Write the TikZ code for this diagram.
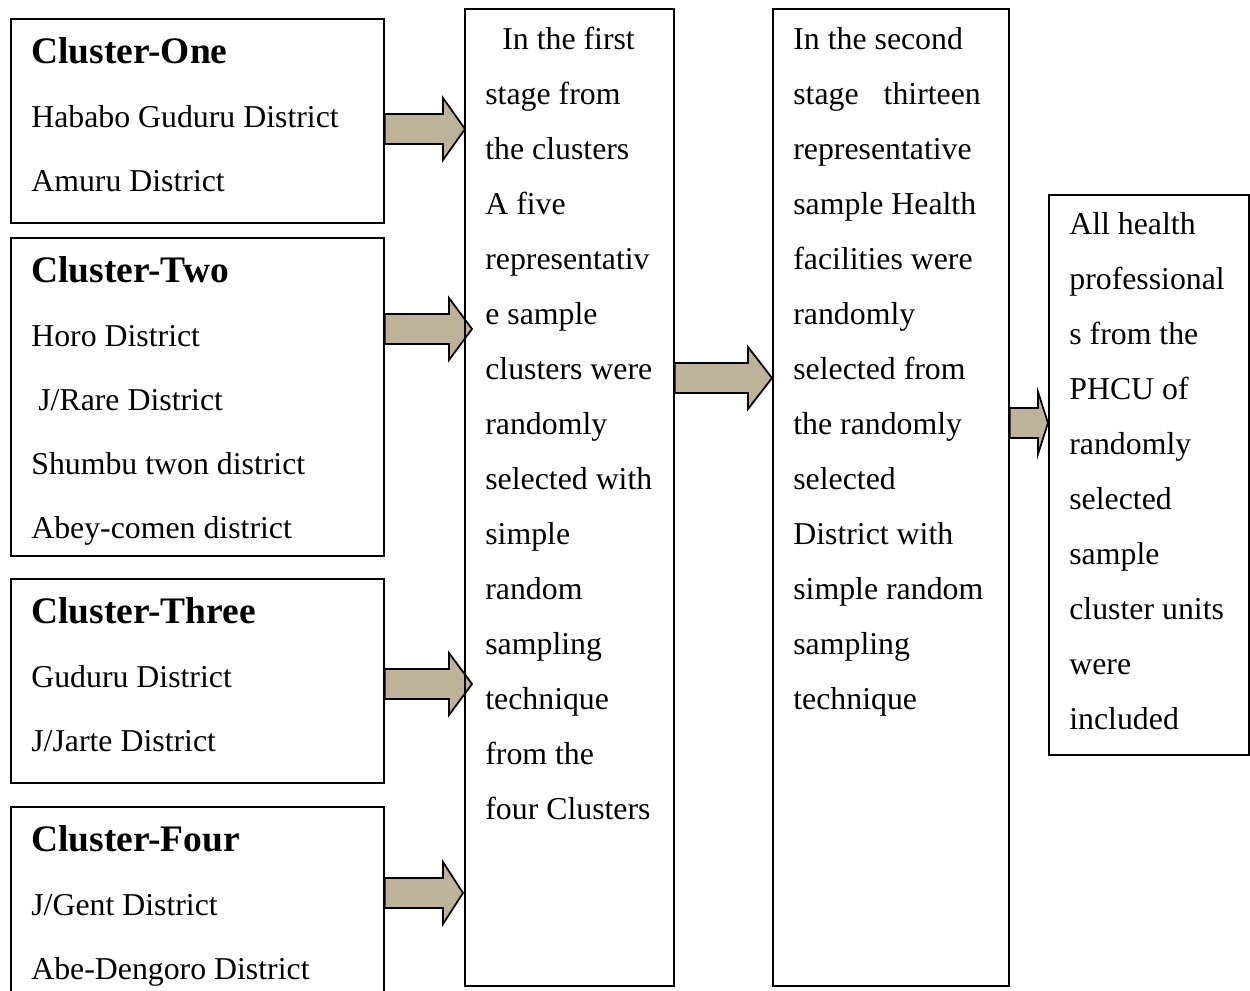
\documentclass[tikz,border=0pt]{standalone}
\usepackage{fontspec}
\setmainfont{Liberation Serif}
\usetikzlibrary{calc,backgrounds}
\definecolor{arrowtan}{RGB}{191,178,155}
\tikzset{
  % riquadri
  panel/.style={draw, line width=1pt, rectangle, inner sep=0pt, anchor=north west},
  % testi
  title/.style={font=\fontsize{21.3}{24}\selectfont\bfseries, anchor=base west, inner sep=0pt},
  item/.style={font=\fontsize{18.1}{20}\selectfont, anchor=base west, inner sep=0pt},
  % freccia piena
  fat arrow/.style={fill=arrowtan, draw=black, line width=1pt, line join=miter}
}
% #1 partenza, #2 arrivo, #3 quota, #4 sporgenza punta, #5 lunghezza punta
\newcommand{\fatarrow}[5]{%
  \filldraw[fat arrow] let \p1=(#1 |- 0,#3), \p2=(#2 |- 0,#3) in
    (\x1,{\y1+0.3cm}) -- ({\x2+#4cm-#5cm},{\y1+0.3cm}) -- ({\x2+#4cm-#5cm},{\y1+0.62cm})
    -- ({\x2+#4cm},\y1) -- ({\x2+#4cm-#5cm},{\y1-0.62cm}) -- ({\x2+#4cm-#5cm},{\y1-0.3cm})
    -- (\x1,{\y1-0.3cm}) -- cycle;}
\begin{document}
\begin{tikzpicture}
    \clip (0,0) rectangle (25,-19.8);

    % Riquadri dei cluster
    \node[panel, minimum width=7.46cm, minimum height=4.08cm] (c1) at (0.2,-0.36) {};
    \node[panel, minimum width=7.46cm, minimum height=6.36cm] (c2) at (0.2,-4.74) {};
    \node[panel, minimum width=7.46cm, minimum height=4.08cm] (c3) at (0.2,-11.56) {};
    \node[panel, minimum width=7.46cm, minimum height=4.08cm] (c4) at (0.2,-16.12) {};

    % Riquadri delle fasi
    \node[panel, minimum width=4.18cm, minimum height=19.54cm] (s1) at (9.28,-0.16) {};
    \node[panel, minimum width=4.72cm, minimum height=19.54cm] (s2) at (15.44,-0.16) {};
    \node[panel, minimum width=4.0cm, minimum height=11.2cm] (fin) at (20.96,-3.88) {};

    % Testi dei cluster
    \node[title] (c1-t) at ($(c1.north west)+(0.42,-0.9)$) {Cluster-One};
    \foreach \txt [count=\i] in {Hababo Guduru District, Amuru District}
      \node[item] (c1-\i) at ($(c1.north west)+(0.42,-0.9-1.28*\i)$) {\txt};

    \node[title] (c2-t) at ($(c2.north west)+(0.42,-0.91)$) {Cluster-Two};
    \foreach \txt [count=\i] in {Horo District, {\hspace{0.14cm}J/Rare District},
        Shumbu twon district, Abey-comen district}
      \node[item] (c2-\i) at ($(c2.north west)+(0.42,-0.91-1.28*\i)$) {\txt};

    \node[title] (c3-t) at ($(c3.north west)+(0.42,-0.9)$) {Cluster-Three};
    \foreach \txt [count=\i] in {Guduru District, J/Jarte District}
      \node[item] (c3-\i) at ($(c3.north west)+(0.42,-0.9-1.28*\i)$) {\txt};

    \node[title] (c4-t) at ($(c4.north west)+(0.42,-0.9)$) {Cluster-Four};
    \foreach \txt [count=\i] in {J/Gent District, Abe-Dengoro District}
      \node[item] (c4-\i) at ($(c4.north west)+(0.42,-0.9-1.28*\i)$) {\txt};

    % Testi delle fasi
    \foreach \txt [count=\i] in {{\hspace{0.34cm}In the first}, stage from, the clusters,
        A five, representativ, e sample, clusters were, randomly, selected with,
        simple, random, sampling, technique, from the, four Clusters}
      \node[item] (s1-\i) at ($(s1.north west)+(0.42,0.28-1.1*\i)$) {\txt};

    \foreach \txt [count=\i] in {In the second, {stage\hspace{0.5cm}thirteen},
        representative, sample Health, facilities were, randomly, selected from,
        the randomly, selected, District with, simple random, sampling, technique}
      \node[item] (s2-\i) at ($(s2.north west)+(0.42,0.28-1.1*\i)$) {\txt};

    \foreach \txt [count=\i] in {All health, professional, s from the, PHCU of,
        randomly, selected, sample, cluster units, were, included}
      \node[item] (fin-\i) at ($(fin.north west)+(0.42,0.3-1.1*\i)$) {\txt};

    % Frecce
    \begin{scope}[on background layer]
      \fatarrow{c1.east}{s1.west}{-2.58}{0.02}{0.44}
      \fatarrow{c2.east}{s1.west}{-6.58}{0.16}{0.46}
      \fatarrow{c3.east}{s1.west}{-13.68}{0.16}{0.46}
      \fatarrow{c4.east}{s1.west}{-17.86}{-0.02}{0.40}
      \fatarrow{s1.east}{s2.west}{-7.56}{0}{0.48}
      \fatarrow{s2.east}{fin.west}{-8.46}{0}{0.2}
    \end{scope}
\end{tikzpicture}
\end{document}
